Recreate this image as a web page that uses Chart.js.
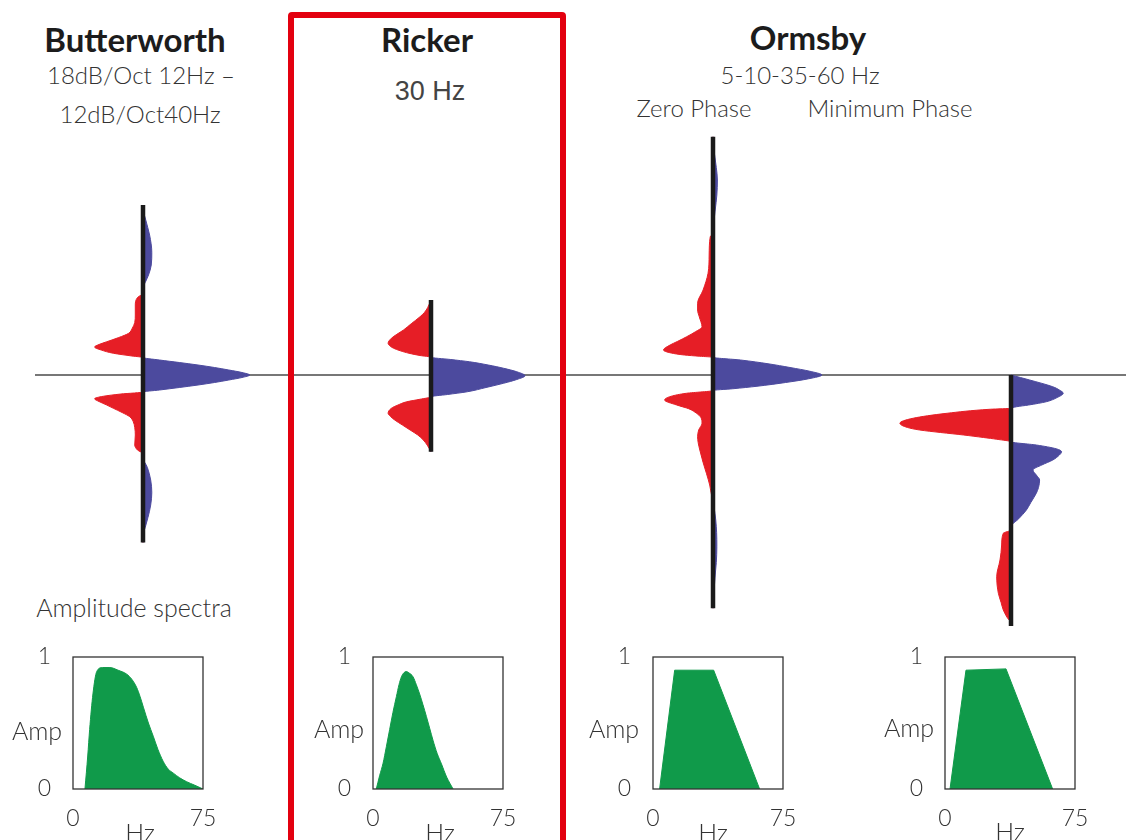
<!DOCTYPE html>
<html>
<head>
<meta charset="utf-8">
<title>Wavelets and amplitude spectra</title>
<script src="https://cdn.jsdelivr.net/npm/chart.js@4.4.1/dist/chart.umd.min.js"></script>
<style>
  html, body { margin: 0; padding: 0; background: #fff; }
  body { position: relative; width: 1126px; height: 840px; overflow: hidden; font-family: Lato, "Open Sans", sans-serif; color: #333; }
  canvas { position: absolute; }
  .lbl { position: absolute; transform: translate(-50%, -50%); white-space: nowrap; line-height: 1; font-weight: 300; font-size: 24px; color: #333; }
  .ttl { font-weight: 700; font-size: 33px; color: #1c1c1c; }
  .axl { font-size: 25px; }
  #zeroLine { position: absolute; left: 35px; top: 374px; width: 1091px; height: 2px; background: #777; }
  #rickerBox { position: absolute; left: 288px; top: 12px; width: 266px; height: 900px; border: 6px solid #e3000f; border-radius: 4px; }
</style>
</head>
<body>
<div id="zeroLine"></div>
<div id="rickerBox"></div>

<div class="lbl ttl" style="left:135px;top:39px">Butterworth</div>
<div class="lbl" style="left:141px;top:75px">18dB/Oct 12Hz –</div>
<div class="lbl" style="left:140px;top:114px">12dB/Oct40Hz</div>
<div class="lbl ttl" style="left:427px;top:39px">Ricker</div>
<div class="lbl" style="left:430px;top:91px;font-family:'Liberation Sans',Arial,sans-serif;font-weight:400;font-size:27px;color:#444">30 Hz</div>
<div class="lbl ttl" style="left:808px;top:37px">Ormsby</div>
<div class="lbl" style="left:800px;top:75px">5-10-35-60 Hz</div>
<div class="lbl" style="left:694px;top:108px">Zero Phase</div>
<div class="lbl" style="left:890px;top:108px">Minimum Phase</div>
<div class="lbl" style="left:134px;top:607px;font-size:25px">Amplitude spectra</div>

<canvas id="wButter" width="264" height="510" style="left:11px;top:120px"></canvas>
<canvas id="wRicker" width="264" height="510" style="left:299px;top:120px"></canvas>
<canvas id="wOrmsbyZero" width="264" height="510" style="left:581px;top:120px"></canvas>
<canvas id="wOrmsbyMin" width="264" height="510" style="left:879px;top:120px"></canvas>

<canvas id="sButter" width="195" height="198" style="left:28px;top:641px"></canvas>
<canvas id="sRicker" width="195" height="198" style="left:328px;top:641px"></canvas>
<canvas id="sOrmsbyZero" width="195" height="198" style="left:608px;top:641px"></canvas>
<canvas id="sOrmsbyMin" width="195" height="198" style="left:900px;top:641px"></canvas>

<div class="lbl axl" style="left:37px;top:730px">Amp</div>
<div class="lbl axl" style="left:339px;top:728px">Amp</div>
<div class="lbl axl" style="left:614px;top:728px">Amp</div>
<div class="lbl axl" style="left:909px;top:727px">Amp</div>
<div class="lbl axl" style="left:140px;top:832px">Hz</div>
<div class="lbl axl" style="left:440px;top:832px">Hz</div>
<div class="lbl axl" style="left:713px;top:832px">Hz</div>
<div class="lbl axl" style="left:1010px;top:831px">Hz</div>

<script>
// Wavelets: time in ms (down = later), amplitude relative to the Ormsby zero-phase peak
const butterTime = [-68, -67, -62, -56, -49, -44, -40, -37, -35, -32.7, -31, -28, -24, -21, -18.5, -16.7, -15, -13.3, -12.2, -11.2, -10, -8.7, -7.6, -7,
  -6, -5, -4, -3, -2, -1, 0, 1, 2, 3, 4, 5, 6, 6.8,
  7.6, 8.5, 9.5, 10.6, 12, 13.3, 15, 16.7, 18.5, 21, 24, 28, 30, 31.5, 33, 37, 42, 47, 52, 57, 61, 64, 67];
const butterAmp = [0, 0, 0.025, 0.06, 0.08, 0.075, 0.05, 0.02, 0, 0, -0.05, -0.07, -0.07, -0.075, -0.1, -0.13, -0.22, -0.33, -0.4, -0.44, -0.38, -0.27, -0.1, 0,
  0.15, 0.33, 0.5, 0.65, 0.78, 0.9, 0.97, 0.9, 0.78, 0.65, 0.5, 0.33, 0.15, 0,
  -0.2, -0.36, -0.44, -0.4, -0.33, -0.27, -0.19, -0.12, -0.09, -0.075, -0.07, -0.075, -0.05, 0, 0, 0.04, 0.07, 0.08, 0.07, 0.045, 0.02, 0, 0];

const rickerTime = [-30, -27, -25, -23.3, -20.5, -18, -16.3, -14.7, -12.7, -11.5, -10.7, -9.7, -8.7, -7.8, -7.1,
  -6.2, -5.3, -4, -2.7, -1.3, 0.3, 1.8, 3.3, 5, 6.7, 7.8, 8.7,
  9.7, 10.7, 12, 13.3, 15.3, 16.5, 18, 20, 22, 24, 26, 28, 30.7];
const rickerAmp = [0, -0.03, -0.06, -0.1, -0.18, -0.25, -0.31, -0.36, -0.39, -0.37, -0.34, -0.28, -0.2, -0.1, 0,
  0.18, 0.35, 0.52, 0.66, 0.78, 0.855, 0.78, 0.66, 0.5, 0.33, 0.15, 0,
  -0.1, -0.22, -0.3, -0.36, -0.39, -0.37, -0.33, -0.26, -0.19, -0.12, -0.07, -0.035, 0];

const ormsbyZeroTime = [-95.3, -92.7, -88, -83, -78, -72, -66, -60, -58, -56.7, -55.3, -48, -40.7, -34, -28.7, -26, -23.3, -19.3, -17.3, -15.3, -13.5, -12, -10, -8.8, -8, -7.5, -7.1,
  -6, -4.5, -3, -1.5, 0, 1.5, 3, 4.5, 5.5, 6.2,
  7.3, 8.5, 10, 12, 13.5, 15.3, 17, 19.3, 22, 24.7, 27, 30, 35, 39.3, 44, 48.7, 50, 53, 58, 63, 68.7, 75, 80, 86, 91, 93.3];
const ormsbyZeroAmp = [0, 0, 0.015, 0.03, 0.04, 0.035, 0.02, 0.005, 0, 0, -0.025, -0.035, -0.045, -0.09, -0.14, -0.14, -0.125, -0.1, -0.16, -0.24, -0.32, -0.39, -0.45, -0.38, -0.26, -0.12, 0,
  0.25, 0.5, 0.7, 0.88, 0.99, 0.87, 0.66, 0.4, 0.18, 0,
  -0.24, -0.38, -0.44, -0.33, -0.22, -0.15, -0.11, -0.1, -0.13, -0.14, -0.135, -0.12, -0.09, -0.06, -0.03, -0.01, 0, 0.01, 0.025, 0.033, 0.035, 0.03, 0.02, 0.01, 0, 0];

const ormsbyMinTime = [0, 2, 4.7, 6, 7.3, 9, 10.7, 12, 12.7, 13.3,
  13.7, 15.3, 17.3, 19.3, 21, 22, 23, 24, 25, 25.7, 26.7,
  28, 29.5, 30.7, 32, 34, 36, 38, 40, 42, 45, 47.3, 51, 54, 57.5, 60.7, 62,
  63.3, 68, 74, 80.7, 87.3, 91, 94, 97, 99.3, 100.4];
const ormsbyMinAmp = [0, 0.17, 0.38, 0.44, 0.475, 0.42, 0.32, 0.16, 0.05, 0,
  -0.19, -0.58, -0.89, -1.01, -0.94, -0.83, -0.64, -0.43, -0.25, -0.13, 0,
  0.23, 0.41, 0.46, 0.44, 0.38, 0.28, 0.2, 0.23, 0.26, 0.25, 0.23, 0.18, 0.14, 0.07, 0, 0,
  -0.07, -0.085, -0.1, -0.13, -0.115, -0.09, -0.07, -0.035, 0, 0];

// Amplitude spectra: frequency (Hz) and normalised amplitude
const hzTicks = [0, 75];
const ampTicks = [0, 1];
const butterHz = [6.9, 8.5, 9.6, 11.5, 13.7, 17, 21.3, 26, 31, 34, 36.7, 38.7, 40.6, 43.5, 46.3, 49, 52, 55, 57.9, 61.5, 65.6, 70, 75];
const butterSpec = [0, 0.25, 0.45, 0.72, 0.89, 0.92, 0.92, 0.9, 0.87, 0.83, 0.77, 0.7, 0.62, 0.5, 0.4, 0.3, 0.21, 0.15, 0.12, 0.085, 0.055, 0.03, 0];
const rickerHz = [1.9, 3.8, 5.8, 7.7, 9.6, 11.5, 13.5, 15, 16.4, 17.8, 19.2, 20.7, 23.1, 25, 26.9, 28.8, 30.8, 32.7, 34.6, 37, 39.5, 42.5, 44.5, 46.2];
const rickerSpec = [0, 0.1, 0.195, 0.32, 0.45, 0.58, 0.7, 0.79, 0.85, 0.88, 0.89, 0.88, 0.85, 0.79, 0.72, 0.64, 0.55, 0.46, 0.37, 0.27, 0.19, 0.09, 0.04, 0];
const ormsbyZeroHz = [3.8, 12.5, 35, 61.5];
const ormsbyZeroSpec = [0, 0.9, 0.9, 0];
const ormsbyMinHz = [2.9, 12.1, 35.2, 62.1];
const ormsbyMinSpec = [0, 0.9, 0.91, 0];

const BLUE = '#4c4a9e';
const RED = '#e61e26';
const GREEN = '#109a4a';
const AXIS = '#1a1a1a';

function drawWavelet(id, time, amp) {
  const points = pick => time.map((t, i) => ({ x: pick(amp[i]), y: t }));
  const lobe = (pick, color) => ({
    data: points(pick),
    order: 1,
    fill: 'origin',
    backgroundColor: color,
    borderColor: color,
    borderWidth: 1,
    pointRadius: 0,
    cubicInterpolationMode: 'monotone'
  });

  new Chart(document.getElementById(id), {
    type: 'line',
    data: {
      datasets: [
        // the trace axis, drawn over the lobes
        { data: [{ x: 0, y: time[0] }, { x: 0, y: time[time.length - 1] }], order: 0, borderColor: AXIS, borderWidth: 4.5, pointRadius: 0, fill: false },
        lobe(v => Math.max(v, 0), BLUE),
        lobe(v => Math.min(v, 0), RED)
      ]
    },
    options: {
      indexAxis: 'y',
      responsive: false,
      animation: false,
      events: [],
      layout: { padding: 0 },
      plugins: { legend: { display: false }, tooltip: { enabled: false } },
      scales: {
        x: { type: 'linear', min: -1.2, max: 1.2, display: false },
        y: { type: 'linear', min: -102, max: 102, reverse: true, display: false }
      }
    }
  });
}

// box round the plot area of the spectra
const frame = {
  id: 'frame',
  afterDatasetsDraw(chart) {
    const { ctx, chartArea: a } = chart;
    ctx.save();
    ctx.strokeStyle = '#333';
    ctx.lineWidth = 1.3;
    ctx.strokeRect(a.left, a.top, a.width, a.height);
    ctx.restore();
  }
};

function drawSpectrum(id, hz, amp, smooth) {
  const tickFont = { family: 'Lato', size: 23, weight: 300 };
  new Chart(document.getElementById(id), {
    type: 'line',
    data: {
      datasets: [{
        data: hz.map((h, i) => ({ x: h, y: amp[i] })),
        fill: 'origin',
        backgroundColor: GREEN,
        borderColor: GREEN,
        borderWidth: 1,
        pointRadius: 0,
        tension: 0,
        cubicInterpolationMode: smooth ? 'monotone' : 'default'
      }]
    },
    options: {
      responsive: false,
      animation: false,
      events: [],
      layout: { padding: { top: 16, right: 20, left: 0, bottom: 0 } },
      plugins: { legend: { display: false }, tooltip: { enabled: false } },
      scales: {
        x: {
          type: 'linear', min: 0, max: 75,
          grid: { display: false, drawTicks: false },
          border: { display: false },
          afterBuildTicks: s => { s.ticks = hzTicks.map(v => ({ value: v })); },
          afterFit: s => { s.height = 50; s.paddingLeft = 0; s.paddingRight = 0; },
          ticks: { font: tickFont, color: '#333', padding: 16, maxRotation: 0 }
        },
        y: {
          type: 'linear', min: 0, max: 1,
          grid: { display: false, drawTicks: false },
          border: { display: false },
          afterBuildTicks: s => { s.ticks = ampTicks.map(v => ({ value: v })); },
          afterFit: s => { s.width = 45; s.paddingTop = 0; s.paddingBottom = 0; },
          ticks: { font: tickFont, color: '#333', padding: 22 }
        }
      }
    },
    plugins: [frame]
  });
}

drawWavelet('wButter', butterTime, butterAmp);
drawWavelet('wRicker', rickerTime, rickerAmp);
drawWavelet('wOrmsbyZero', ormsbyZeroTime, ormsbyZeroAmp);
drawWavelet('wOrmsbyMin', ormsbyMinTime, ormsbyMinAmp);

drawSpectrum('sButter', butterHz, butterSpec, true);
drawSpectrum('sRicker', rickerHz, rickerSpec, true);
drawSpectrum('sOrmsbyZero', ormsbyZeroHz, ormsbyZeroSpec, false);
drawSpectrum('sOrmsbyMin', ormsbyMinHz, ormsbyMinSpec, false);
</script>
</body>
</html>
